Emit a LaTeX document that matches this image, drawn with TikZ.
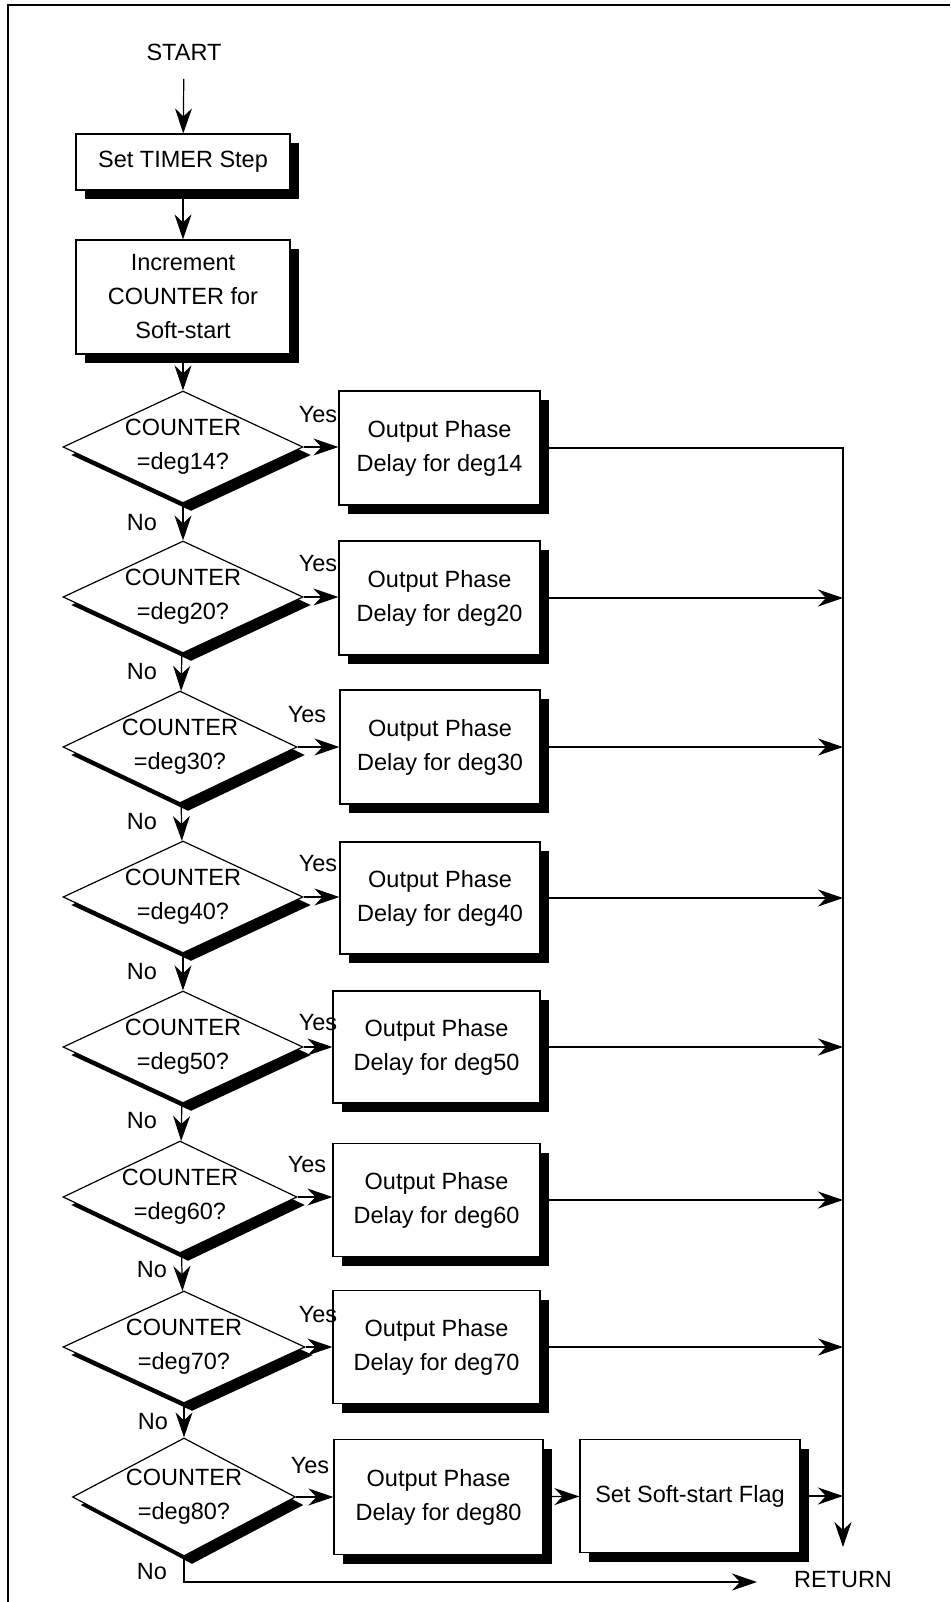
\documentclass[tikz,border=0pt]{standalone}
\usepackage{fontspec}
\setmainfont{Liberation Sans}
\usetikzlibrary{shapes.geometric,shadows,arrows.meta}

\begin{document}
\begin{tikzpicture}[x=1pt,y=-1pt,
  font=\fontsize{23.5}{34}\selectfont,
  flow/.style={line width=1.2pt,-{Stealth[length=25pt,width=17pt,inset=8pt]}},
  procbox/.style={draw,line width=1.2pt,fill=white,align=center,inner sep=0pt,
    drop shadow={shadow xshift=9pt,shadow yshift=-9pt,fill=black,opacity=1}},
  outbox/.style={procbox,minimum width=201pt,minimum height=114pt},
  decision/.style={draw,diamond,aspect=2.14,line width=1.2pt,fill=white,align=center,
    inner sep=0pt,minimum width=240pt,minimum height=112pt,
    drop shadow={shadow xshift=8pt,shadow yshift=-8pt,fill=black,opacity=1}},
  lbl/.style={inner sep=0pt}]
\useasboundingbox (0,0) rectangle (950,1602);
% Frame
\draw[line width=1.6pt] (8,1602) -- (8,5) -- (950,5);
% Start and set-up steps
\node (start) at (184,52) {START};
\node[procbox,minimum width=214pt,minimum height=56pt] (timer) at (183,162) {Set TIMER Step};
\node[procbox,minimum width=214pt,minimum height=114pt] (incr) at (183,297) {Increment\\COUNTER for\\Soft-start};
% Row 1: COUNTER =deg14?
\node[decision] (d1) at (183,447) {COUNTER\\=deg14?};
\node[outbox] (b1) at (439.5,448) {Output Phase\\Delay for deg14};
\node[lbl] (yes1) at (318,415) {Yes};
\node[lbl] (no1) at (142,523) {No};
% Row 2: COUNTER =deg20?
\node[decision] (d2) at (183,597) {COUNTER\\=deg20?};
\node[outbox] (b2) at (439.5,598) {Output Phase\\Delay for deg20};
\node[lbl] (yes2) at (318,564) {Yes};
\node[lbl] (no2) at (142,672) {No};
% Row 3: COUNTER =deg30?
\node[decision,aspect=2.05,minimum width=234pt] (d3) at (180,747) {COUNTER\\=deg30?};
\node[outbox,minimum width=200pt] (b3) at (440,747) {Output Phase\\Delay for deg30};
\node[lbl] (yes3) at (307,715) {Yes};
\node[lbl] (no3) at (142,822) {No};
% Row 4: COUNTER =deg40?
\node[decision] (d4) at (183,897) {COUNTER\\=deg40?};
\node[outbox,minimum width=200pt,minimum height=112pt] (b4) at (440,898) {Output Phase\\Delay for deg40};
\node[lbl] (yes4) at (318,864) {Yes};
\node[lbl] (no4) at (142,972) {No};
% Row 5: COUNTER =deg50?
\node[decision] (d5) at (183,1047) {COUNTER\\=deg50?};
\node[outbox,minimum width=207pt,minimum height=112pt] (b5) at (436.5,1047) {Output Phase\\Delay for deg50};
\node[lbl] (yes5) at (318,1023) {Yes};
\node[lbl] (no5) at (142,1121) {No};
% Row 6: COUNTER =deg60?
\node[decision,aspect=2.05,minimum width=234pt] (d6) at (180,1197) {COUNTER\\=deg60?};
\node[outbox,minimum width=207pt,minimum height=113pt] (b6) at (436.5,1200) {Output Phase\\Delay for deg60};
\node[lbl] (yes6) at (307,1165) {Yes};
\node[lbl] (no6) at (152,1270) {No};
% Row 7: COUNTER =deg70?
\node[decision,minimum width=242pt] (d7) at (184,1347) {COUNTER\\=deg70?};
\node[outbox,minimum width=207pt,minimum height=113pt] (b7) at (436.5,1347) {Output Phase\\Delay for deg70};
\node[lbl] (yes7) at (318,1315) {Yes};
\node[lbl] (no7) at (153,1422) {No};
% Row 8: COUNTER =deg80?
\node[decision,aspect=1.85,minimum width=223pt,minimum height=115pt] (d8) at (184,1497) {COUNTER\\=deg80?};
\node[outbox,minimum width=209pt,minimum height=115pt] (b8) at (438.5,1497) {Output Phase\\Delay for deg80};
\node[procbox,minimum width=220pt,minimum height=113pt] (flag) at (690,1496) {Set Soft-start Flag};
\node[lbl] (yes8) at (310,1466) {Yes};
\node[lbl] (no8) at (152,1572) {No};
% End
\node[lbl] (ret) at (843,1580) {RETURN};
\coordinate (rail) at (843,447);
\coordinate (railend) at (843,1547);
\coordinate (retin) at (757,1582);
% Connectors down the left
\draw[flow,shorten <=15pt] (start) -- (timer);
\draw[flow] (timer) -- (incr);
\draw[flow] (incr) -- (d1);
\draw[flow] (d1) -- (d2);
\draw[flow] (d2) -- (d3);
\draw[flow] (d3) -- (d4);
\draw[flow] (d4) -- (d5);
\draw[flow] (d5) -- (d6);
\draw[flow] (d6) -- (d7);
\draw[flow] (d7) -- (d8);
\draw[flow] (d8.south) |- (retin);
% Yes branches
\draw[flow] (d1.east) -- (d1.east -| b1.west);
\draw[flow] (d2.east) -- (d2.east -| b2.west);
\draw[flow] (d3.east) -- (d3.east -| b3.west);
\draw[flow] (d4.east) -- (d4.east -| b4.west);
\draw[flow] (d5.east) -- (d5.east -| b5.west);
\draw[flow] (d6.east) -- (d6.east -| b6.west);
\draw[flow] (d7.east) -- (d7.east -| b7.west);
\draw[flow] (d8.east) -- (d8.east -| b8.west);
\draw[flow] (b8) -- (flag);
% Return rail
\draw[flow] (b1.east) -| (railend);
\draw[flow] (b2.east) -- (b2.east -| rail);
\draw[flow] (b3.east) -- (b3.east -| rail);
\draw[flow] (b4.east) -- (b4.east -| rail);
\draw[flow] (b5.east) -- (b5.east -| rail);
\draw[flow] (b6.east) -- (b6.east -| rail);
\draw[flow] (b7.east) -- (b7.east -| rail);
\draw[flow] (flag.east) -- (flag.east -| rail);
\end{tikzpicture}
\end{document}
